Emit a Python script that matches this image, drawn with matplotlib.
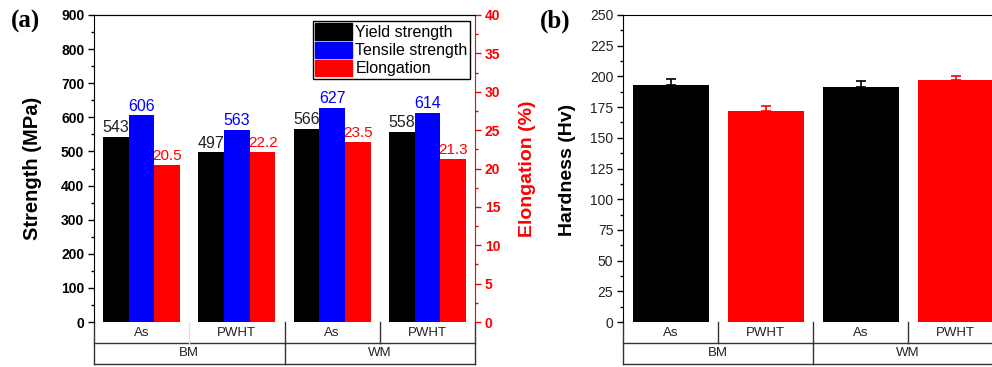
import matplotlib
matplotlib.use("Agg")
import matplotlib.pyplot as plt
from matplotlib.patches import Patch
from matplotlib.ticker import MultipleLocator, AutoMinorLocator

plt.rcParams['font.family'] = ['Liberation Sans', 'DejaVu Sans']

# ---- data ----
conditions = ["As", "PWHT", "As", "PWHT"]
materials = ["BM", "WM"]
yield_strength = [543, 497, 566, 558]
tensile_strength = [606, 563, 627, 614]
elongation = [20.5, 22.2, 23.5, 21.3]
elong_labels = ["20.5", "22.2", "23.5", "21.3"]
hardness = [193, 172, 191, 197]
hardness_err = [4.5, 3.5, 5, 3]
hardness_colors = ["black", "red", "black", "red"]

W, H = 992, 367
fig = plt.figure(figsize=(W / 100, H / 100), dpi=100)

def fx(px):
    return px / W

def fy(py):
    return 1 - py / H

axes_top, axes_bot = 15, 322
row1, row2 = 343, 364

def table(ax, divider_colors):
    tr = ax.get_xaxis_transform()
    h = axes_bot - axes_top
    y1 = -(row1 - axes_bot) / h
    y2 = -(row2 - axes_bot) / h
    lc = "#333333"
    kw = dict(transform=tr, clip_on=False, color=lc, lw=1.0)
    ax.plot([-0.5, 3.5], [y1, y1], **kw)
    ax.plot([-0.5, 3.5], [y2, y2], **kw)
    ax.plot([-0.5, -0.5], [0, y2], **kw)
    ax.plot([3.5, 3.5], [0, y2], **kw)
    ax.plot([1.5, 1.5], [0, y2], **kw)
    ax.plot([0.5, 0.5], [0, y1], transform=tr, clip_on=False, color=divider_colors[0], lw=1.0)
    ax.plot([2.5, 2.5], [0, y1], transform=tr, clip_on=False, color=divider_colors[1], lw=1.0)
    for i, c in enumerate(conditions):
        ax.text(i, (0 + y1) / 2, c, transform=tr, ha="center", va="center",
                fontsize=9.5, color="#222222")
    for j, m in enumerate(materials):
        ax.text(0.5 + 2 * j, (y1 + y2) / 2, m, transform=tr, ha="center", va="center",
                fontsize=9.5, color="#222222")

# ---- panel (a) ----
ax = fig.add_axes([fx(94), fy(axes_bot), fx(475 - 94), (axes_bot - axes_top) / H])
ax2 = ax.twinx()
x = list(range(4))
bw = 0.27
ax.bar([i - bw for i in x], yield_strength, bw, color="black")
ax.bar(x, tensile_strength, bw, color="#0000ff")
ax2.bar([i + bw for i in x], elongation, bw, color="#ff0000")
for i in x:
    ax.text(i - bw, yield_strength[i] + 5, str(yield_strength[i]), ha="center", va="bottom",
            fontsize=11.5, color="#222222")
    ax.text(i, tensile_strength[i] + 5, str(tensile_strength[i]), ha="center", va="bottom",
            fontsize=11.5, color="#0000ff")
    ax2.text(i + bw, elongation[i] + 0.2, elong_labels[i], ha="center", va="bottom",
             fontsize=11, color="#ff0000")
ax.set_xlim(-0.5, 3.5)
ax.set_ylim(0, 900)
ax2.set_ylim(0, 40)
ax.set_xticks([])
ax.yaxis.set_major_locator(MultipleLocator(100))
ax.yaxis.set_minor_locator(AutoMinorLocator(2))
ax2.yaxis.set_major_locator(MultipleLocator(5))
ax2.yaxis.set_minor_locator(AutoMinorLocator(2))
ax.tick_params(axis="y", which="major", direction="out", length=4, width=1, labelsize=10, pad=3)
ax.tick_params(axis="y", which="minor", direction="out", length=2.5, width=1)
for t in ax.get_yticklabels():
    t.set_fontweight("bold")
ax2.tick_params(axis="y", which="major", direction="out", length=4, width=1, labelsize=10,
                colors="#ff0000", pad=3)
ax2.tick_params(axis="y", which="minor", direction="out", length=2.5, width=1, colors="#ff0000")
for t in ax2.get_yticklabels():
    t.set_fontweight("bold")
ax2.spines["right"].set_color("#ff0000")
ax.spines["right"].set_visible(False)
for a in (ax, ax2):
    a.spines["bottom"].set_visible(False)
    a.spines["top"].set_visible(True)
ax2.spines["left"].set_visible(False)
table(ax, ["#dddddd", "#333333"])

handles = [Patch(facecolor="black", edgecolor="black"),
           Patch(facecolor="#0000ff", edgecolor="#0000ff"),
           Patch(facecolor="#ff0000", edgecolor="#ff0000")]
leg = ax2.legend(handles, ["Yield strength", "Tensile strength", "Elongation"],
                 loc="upper right", bbox_to_anchor=(fx(470 - 94) / fx(381), (322 - 21) / 307),
                 borderaxespad=0, fontsize=11.5, handlelength=2.3, handleheight=1.2,
                 labelspacing=0.1, borderpad=0.15, handletextpad=0.2, fancybox=False,
                 framealpha=1, edgecolor="black")
leg.get_frame().set_linewidth(1.0)

fig.text(fx(32), fy(168), "Strength (MPa)", rotation=90, ha="center", va="center",
         fontsize=14.5, fontweight="bold")
fig.text(fx(527), fy(169), "Elongation (%)", rotation=90, ha="center", va="center",
         fontsize=14, fontweight="bold", color="#ff0000")
fig.text(fx(25), fy(21), "(a)", ha="center", va="center", fontsize=18, fontweight="bold",
         family="Liberation Serif")

# ---- panel (b) ----
bx = fig.add_axes([fx(623), fy(axes_bot), fx(380), (axes_bot - axes_top) / H])
for i in x:
    bx.bar(i, hardness[i], 0.8, color=hardness_colors[i],
           yerr=[[0], [hardness_err[i]]], ecolor=hardness_colors[i], capsize=3.5,
           error_kw=dict(elinewidth=1.2, capthick=1.2))
bx.set_xlim(-0.5, 3.5)
bx.set_ylim(0, 250)
bx.set_xticks([])
bx.yaxis.set_major_locator(MultipleLocator(25))
bx.yaxis.set_minor_locator(AutoMinorLocator(2))
bx.tick_params(axis="y", which="major", direction="out", length=4, width=1, labelsize=10,
               pad=3, labelcolor="#222222")
bx.tick_params(axis="y", which="minor", direction="out", length=2.5, width=1)
bx.spines["bottom"].set_visible(False)
table(bx, ["#333333", "#333333"])
fig.text(fx(567), fy(170), "Hardness (Hv)", rotation=90, ha="center", va="center",
         fontsize=14, fontweight="bold")
fig.text(fx(555), fy(21), "(b)", ha="center", va="center", fontsize=18, fontweight="bold",
         family="Liberation Serif")

fig.savefig("out.png", dpi=100)
